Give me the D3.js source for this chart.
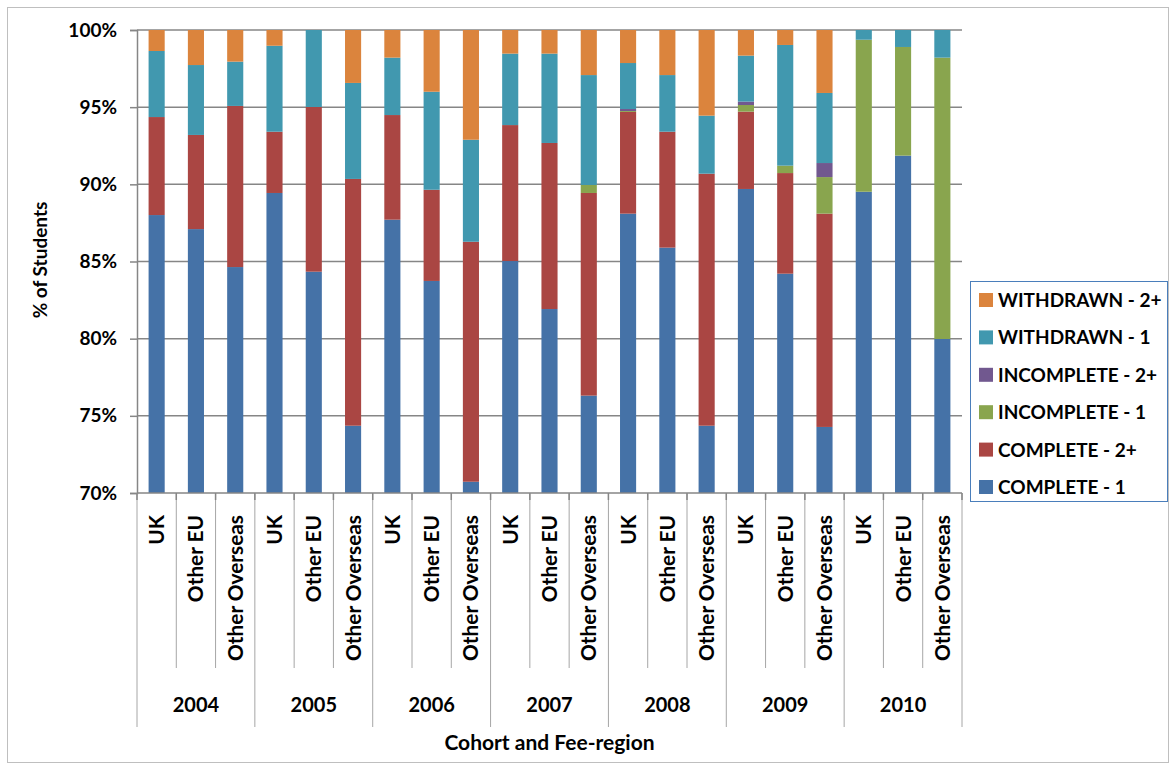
<!DOCTYPE html>
<html><head><meta charset="utf-8">
<script src="https://cdn.jsdelivr.net/npm/d3@7"></script>
<style>
body{margin:0;background:#fff;}
svg{display:block;font-family:Lato,"Open Sans",sans-serif;font-weight:bold;}
</style></head>
<body><svg id="c" width="1172" height="769"></svg>
<script>
const years = ["2004","2005","2006","2007","2008","2009","2010"];
const regions = ["UK","Other EU","Other Overseas"];
const yTicks = [0.70,0.75,0.80,0.85,0.90,0.95,1.00];
const seriesNames = ["COMPLETE - 1","COMPLETE - 2+","INCOMPLETE - 1","INCOMPLETE - 2+","WITHDRAWN - 1","WITHDRAWN - 2+"];
const seriesColors = ["#4572A7","#AA4643","#89A54E","#71588F","#4198AF","#DB843D"];
// percentages per bar (2004 UK, 2004 EU, 2004 OO, 2005 UK, ...)
const complete1 =   [88.01,87.10,84.64, 89.44,84.34,74.36, 87.71,83.74,70.73, 85.03,81.92,76.31, 88.10,85.90,74.36, 89.70,84.21,74.28, 89.52,91.86,79.98];
const complete2 =   [ 6.35, 6.10,10.44,  3.97,10.67,15.99,  6.78, 5.91,15.55,  8.81,10.76,13.13,  6.59, 7.51,16.33,  5.01, 6.52,13.82,  0,    0,    0   ];
const incomplete1 = [ 0,    0,    0,     0,    0,    0,     0,    0,    0,     0,    0,    0.52,  0.06, 0,    0,     0.43, 0.48, 2.37,  9.85, 7.04,18.23];
const incomplete2 = [ 0,    0,    0,     0,    0,    0,     0,    0,    0,     0,    0,    0,     0.13, 0,    0,     0.22, 0,    0.91,  0,    0,    0   ];
const withdrawn1 =  [ 4.28, 4.53, 2.87,  5.57, 4.99, 6.22,  3.72, 6.35, 6.61,  4.63, 5.79, 7.12,  2.98, 3.67, 3.76,  2.98, 7.82, 4.54,  0.63, 1.10, 1.79];
const withdrawn2 =  [ 1.36, 2.27, 2.05,  1.02, 0,    3.43,  1.79, 4.00, 7.11,  1.53, 1.53, 2.92,  2.14, 2.92, 5.55,  1.66, 0.97, 4.08,  0,    0,    0   ];
const seriesData = [complete1,complete2,incomplete1,incomplete2,withdrawn1,withdrawn2];

const keys = [];
years.forEach(y=>regions.forEach(r=>keys.push(y+"|"+r)));
const rows = keys.map((k,i)=>{const o={key:k}; seriesNames.forEach((s,j)=>o[s]=seriesData[j][i]/100); return o;});

const FS = 19;
const svg = d3.select("#c");
const L=137, R=962, T=30, B=493;
const x = d3.scaleBand().domain(keys).range([L,R]).paddingInner(0.59).paddingOuter(0.295);
const step = x.step();
const y = d3.scaleLinear().domain([0.70,1.00]).range([B,T]);

// outer border
svg.append("rect").attr("x",7.5).attr("y",7.5).attr("width",1161).attr("height",755)
  .attr("fill","none").attr("stroke","#bfbfbf").attr("stroke-width",1);

// gridlines
svg.append("g").selectAll("line").data(yTicks.filter(t=>t>0.70)).join("line")
  .attr("x1",L).attr("x2",R).attr("y1",d=>y(d)).attr("y2",d=>y(d))
  .attr("stroke","#868686").attr("stroke-width",1.5);

// bars
const stack = d3.stack().keys(seriesNames)(rows);
svg.append("clipPath").attr("id","clip").append("rect").attr("x",L).attr("y",T-2).attr("width",R-L).attr("height",B-T+2);
const gBars = svg.append("g").attr("clip-path","url(#clip)");
stack.forEach((layer,j)=>{
  gBars.append("g").attr("fill",seriesColors[j]).selectAll("rect").data(layer).join("rect")
    .attr("x",d=>x(d.data.key)).attr("width",x.bandwidth())
    .attr("y",d=>y(Math.min(d[1],1.005)))
    .attr("height",d=>Math.max(0,y(d[0])-y(Math.min(d[1],1.005))));
});

// y axis
const yAxis = d3.axisLeft(y).tickValues(yTicks).tickFormat(d3.format(".0%")).tickSize(7).tickPadding(13);
const gy = svg.append("g").attr("transform",`translate(${L},0)`).call(yAxis);
gy.select(".domain").attr("stroke","#868686").attr("stroke-width",1.5);
gy.selectAll(".tick line").attr("stroke","#868686").attr("stroke-width",1.5);
gy.selectAll(".tick text").attr("font-size",FS).attr("font-weight","bold").attr("fill","#000").attr("font-family","Lato");

// x axis base line
svg.append("line").attr("x1",L).attr("x2",R).attr("y1",B).attr("y2",B).attr("stroke","#868686").attr("stroke-width",1.5);

// category boundaries
const bounds = d3.range(keys.length+1).map(i=>L+i*step);
svg.append("g").selectAll("line").data(bounds).join("line")
  .attr("x1",d=>d).attr("x2",d=>d).attr("y1",B).attr("y2",(d,i)=>i%3===0?727:668)
  .attr("stroke","#a6a6a6").attr("stroke-width",1);
svg.append("g").selectAll("line").data(bounds).join("line")
  .attr("x1",d=>d).attr("x2",d=>d).attr("y1",B).attr("y2",B+7)
  .attr("stroke","#868686").attr("stroke-width",1.5);

// region labels
svg.append("g").selectAll("text").data(keys).join("text")
  .attr("transform",d=>`translate(${x(d)+x.bandwidth()/2+7.5},515) rotate(-90)`)
  .attr("text-anchor","end").attr("font-size",20.8).attr("fill","#000")
  .text(d=>d.split("|")[1]);

// year labels
svg.append("g").selectAll("text").data(years).join("text")
  .attr("x",(d,i)=>L+(i*3+1.5)*step).attr("y",712).attr("text-anchor","middle")
  .attr("font-size",20).attr("fill","#000").text(d=>d);

// axis titles
svg.append("text").attr("x",(L+R)/2).attr("y",750).attr("text-anchor","middle").attr("font-size",21).attr("fill","#000").text("Cohort and Fee-region");
svg.append("text").attr("transform","translate(47,260) rotate(-90)").attr("text-anchor","middle").attr("font-size",FS).attr("fill","#000").text("% of Students");

// legend
const lg = svg.append("g");
lg.append("rect").attr("x",970.5).attr("y",281.5).attr("width",197).attr("height",220).attr("fill","#fff").attr("stroke","#4a7ebb").attr("stroke-width",1);
const legendOrder = d3.range(seriesNames.length).reverse();
legendOrder.forEach((j,k)=>{
  const cy = 300 + k*37.4;
  lg.append("rect").attr("x",979).attr("y",cy-7).attr("width",14).attr("height",14).attr("fill",seriesColors[j]);
  lg.append("text").attr("x",998).attr("y",cy+7).attr("font-size",FS).attr("fill","#000").text(seriesNames[j]);
});
</script></body></html>
